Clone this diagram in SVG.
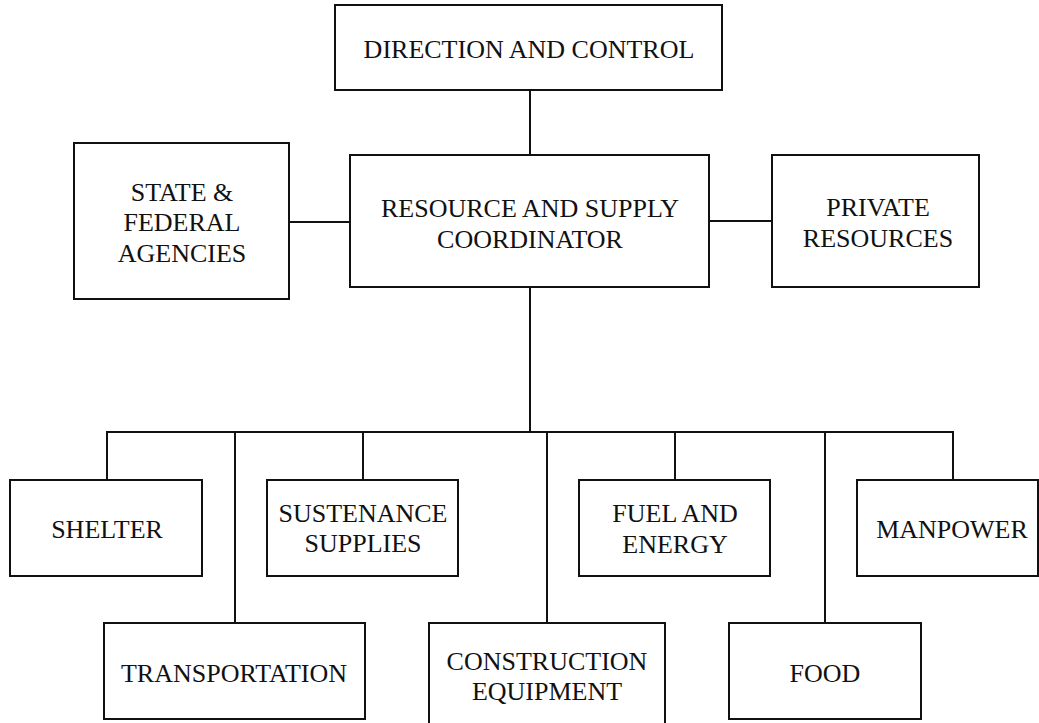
<svg xmlns="http://www.w3.org/2000/svg" width="1039" height="723" viewBox="0 0 1039 723">
  <style>
    .box { fill: #ffffff; stroke: #111111; stroke-width: 2; }
    .wire { fill: none; stroke: #111111; stroke-width: 2; }
    .label { font-family: "Liberation Serif", "Times New Roman", serif; font-size: 26px; fill: #111111; text-anchor: middle; }
  </style>
  <rect width="1039" height="723" fill="#ffffff"/>

  <!-- connectors -->
  <g id="connectors" class="wire">
    <line x1="530" y1="90" x2="530" y2="155"/>
    <line x1="289" y1="222" x2="350" y2="222"/>
    <line x1="709" y1="221" x2="772" y2="221"/>
    <line x1="530" y1="287" x2="530" y2="432"/>
    <line x1="106" y1="432" x2="954" y2="432"/>
    <line x1="107" y1="432" x2="107" y2="480"/>
    <line x1="235" y1="432" x2="235" y2="623"/>
    <line x1="363" y1="432" x2="363" y2="480"/>
    <line x1="547" y1="432" x2="547" y2="623"/>
    <line x1="675" y1="432" x2="675" y2="480"/>
    <line x1="825" y1="432" x2="825" y2="623"/>
    <line x1="953" y1="432" x2="953" y2="480"/>
  </g>

  <g id="direction-control">
    <rect class="box" x="335" y="5" width="387" height="85"/>
    <text class="label" x="529" y="58">DIRECTION AND CONTROL</text>
  </g>

  <g id="state-federal">
    <rect class="box" x="74" y="143" width="215" height="156"/>
    <text class="label" x="182" y="201">STATE &amp;</text>
    <text class="label" x="182" y="231">FEDERAL</text>
    <text class="label" x="182" y="262">AGENCIES</text>
  </g>

  <g id="coordinator">
    <rect class="box" x="350" y="155" width="359" height="132"/>
    <text class="label" x="530" y="217">RESOURCE AND SUPPLY</text>
    <text class="label" x="530" y="248">COORDINATOR</text>
  </g>

  <g id="private-resources">
    <rect class="box" x="772" y="155" width="207" height="132"/>
    <text class="label" x="878" y="216">PRIVATE</text>
    <text class="label" x="878" y="247">RESOURCES</text>
  </g>

  <g id="shelter">
    <rect class="box" x="10" y="480" width="192" height="96"/>
    <text class="label" x="107" y="538">SHELTER</text>
  </g>

  <g id="sustenance">
    <rect class="box" x="267" y="480" width="191" height="96"/>
    <text class="label" x="363" y="522">SUSTENANCE</text>
    <text class="label" x="363" y="552">SUPPLIES</text>
  </g>

  <g id="fuel-energy">
    <rect class="box" x="579" y="480" width="191" height="96"/>
    <text class="label" x="675" y="522">FUEL AND</text>
    <text class="label" x="675" y="553">ENERGY</text>
  </g>

  <g id="manpower">
    <rect class="box" x="857" y="480" width="181" height="96"/>
    <text class="label" x="952" y="538">MANPOWER</text>
  </g>

  <g id="transportation">
    <rect class="box" x="104" y="623" width="261" height="96"/>
    <text class="label" x="234" y="682">TRANSPORTATION</text>
  </g>

  <g id="construction">
    <rect class="box" x="429" y="623" width="236" height="110"/>
    <text class="label" x="547" y="670">CONSTRUCTION</text>
    <text class="label" x="547" y="700">EQUIPMENT</text>
  </g>

  <g id="food">
    <rect class="box" x="729" y="623" width="192" height="96"/>
    <text class="label" x="825" y="682">FOOD</text>
  </g>
</svg>
